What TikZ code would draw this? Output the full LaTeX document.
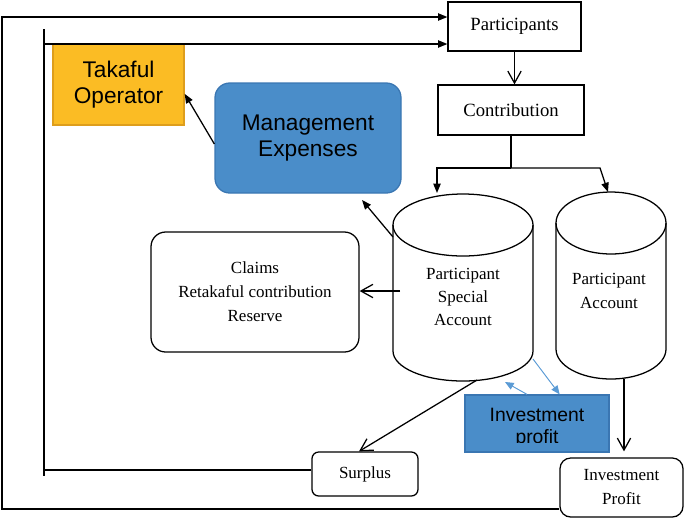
\documentclass[tikz,border=0pt]{standalone}
\usepackage{fontspec}
\setmainfont{Liberation Serif}
\newfontfamily\arialfont{Liberation Sans}
\usepackage{tikz}
\usetikzlibrary{arrows.meta}
\definecolor{takaful}{RGB}{251,188,36}
\definecolor{takafulline}{RGB}{222,158,28}
\definecolor{fundblue}{RGB}{74,141,201}
\definecolor{fundline}{RGB}{58,118,178}
\definecolor{profitblue}{RGB}{91,155,213}
\tikzstyle{box}=[rectangle,draw=black,inner sep=0mm,align=center]
\tikzstyle{roundbox}=[box,rounded corners=11pt]
\tikzstyle{timesbig}=[font=\fontsize{14}{17}\selectfont]
\tikzstyle{times}=[font=\fontsize{12.75}{18}\selectfont]
\tikzstyle{arial}=[font=\arialfont\fontsize{17}{20}\selectfont]
\tikzstyle{arrow}=[-{Triangle[length=7pt,width=5.5pt]}]
\tikzstyle{openarrow}=[-{Straight Barb[length=9pt,width=10pt]}]
\tikzstyle{bluearrow}=[-{Triangle[length=6.5pt,width=5.5pt]},draw=profitblue,fill=profitblue,line width=0.7pt]
\tikzset{every picture/.style={
    line width=0.95pt
  }
}

\begin{document}
\begin{tikzpicture}[x=0.75pt,y=-0.75pt]
      \useasboundingbox (0,0) rectangle (685,519);
      \node[box,timesbig,minimum width=99.75pt,minimum height=36.75pt] at (514.5,26.5) (part) {Participants};
      \node[box,timesbig,minimum width=109.5pt,minimum height=37.5pt] at (511,110) (contr) {Contribution};
      \node[box,arial,fill=takaful,draw=takafulline,minimum width=98.25pt,minimum height=60.75pt] at (118.5,84.5) (tak) {Takaful\\Operator};
      \node[roundbox,arial,fill=fundblue,draw=fundline,minimum width=139.5pt,minimum height=82.5pt] at (308,138) (mgmt) {Management\\Expenses};
      \node[roundbox,times,minimum width=156pt,minimum height=90pt] at (255,292) (claims) {Claims\\Retakaful contribution\\Reserve};
      \node[roundbox,times,rounded corners=5pt,minimum width=79.5pt,minimum height=33pt] at (365,474) (surp) {Surplus};
      \node[roundbox,times,rounded corners=8pt,minimum width=92.25pt,minimum height=44.25pt] at (621.5,487.5) (invp) {Investment\\Profit};
      \node[box,fill=fundblue,draw=fundline,minimum width=108pt,minimum height=42.75pt] at (537,423.5) (inv) {};
      \begin{scope}
        \clip (465,395) rectangle (609,442);
        \node[align=center,font=\arialfont\fontsize{14.5}{16.5}\selectfont] at (537,428) (invtext) {Investment\\profit};
      \end{scope}
      % the two accounts
      \draw (393,225) -- (393,351) arc[start angle=180,end angle=0,x radius=70,y radius=30] -- (533,225);
      \draw (463,225) ellipse[x radius=70,y radius=31];
      \draw (556,223) -- (556,349) arc[start angle=180,end angle=0,x radius=55,y radius=30] -- (666,223);
      \draw (611,223) ellipse[x radius=55,y radius=31];
      \node[align=center,font=\fontsize{12.75}{17.25}\selectfont] at (463,297) (psa) {Participant\\Special\\Account};
      \node[times,align=center] at (609,290.5) (pa) {Participant\\Account};
      \coordinate (psa-in) at (437,193);
      \coordinate (pa-in) at (608,192);
      \coordinate (psa-nw) at (393,237);
      \coordinate (psa-w) at (400,291);
      \coordinate (psa-b) at (477,380);
      \coordinate (psa-se) at (533,359);
      \coordinate (pa-b) at (624,379);
      % loops back to participants
      \coordinate (outer-bl) at (2,509);
      \coordinate (outer-tl) at (2,17);
      \coordinate (inner-bl) at (44,470);
      \coordinate (inner-tl) at (44,44);
      \draw[arrow] (invp.west |- outer-bl) -- (outer-bl) -- (outer-tl) -- (outer-tl -| part.west);
      \draw (44,29) -- (44,476);
      \draw (surp.west |- inner-bl) -- (inner-bl);
      \draw[arrow] (inner-tl) -- (inner-tl -| part.west);
      % flows
      \draw[openarrow] (part.south) -- (part.south |- contr.north);
      \coordinate (split) at (511,168);
      \draw (contr.south) -- (split);
      \draw[arrow] (split) -- (psa-in |- split) -- (psa-in);
      \draw[arrow] (split) -- (600,168) -- (pa-in);
      \draw[arrow] (psa-nw) -- (362,200);
      \draw[arrow] ([yshift=-4.5pt]mgmt.west) -- ([yshift=-7pt]tak.east);
      \draw[openarrow] (psa-w) -- (claims.east |- psa-w);
      \draw[openarrow] (psa-b) -- ([xshift=-4.5pt]surp.north);
      \draw[openarrow,shorten >=4.5pt] (pa-b) -- (pa-b |- invp.north);
      \draw[bluearrow] ([xshift=-7.5pt]inv.north) -- (505,382);
      \draw[bluearrow] (psa-se) -- ([xshift=17pt]inv.north);
\end{tikzpicture}
\end{document}
